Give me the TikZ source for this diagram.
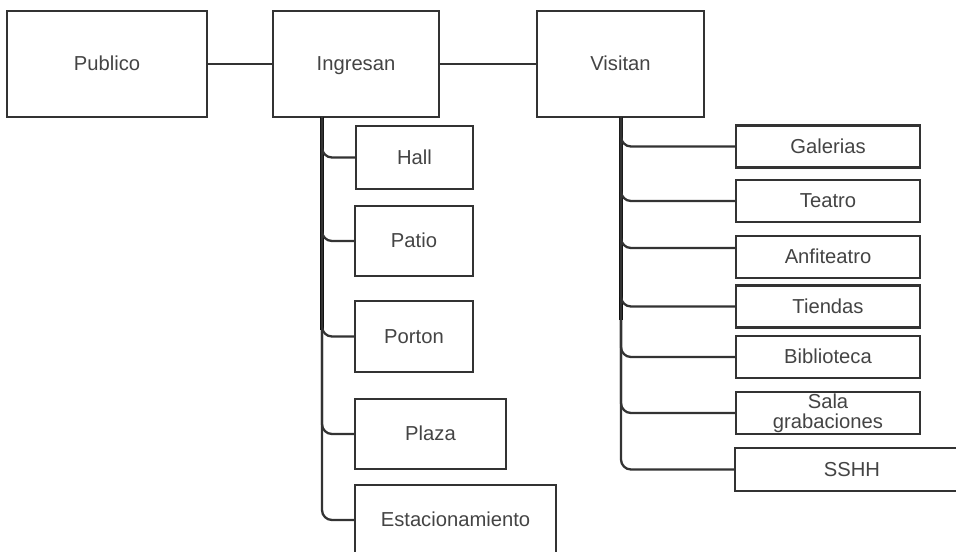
\documentclass[tikz,border=0pt]{standalone}
\usepackage{fontspec}
\setmainfont{Liberation Sans}
\definecolor{boxline}{HTML}{333333}
\definecolor{labelgray}{HTML}{444444}

\begin{document}
\begin{tikzpicture}[x=0.02cm, y=-0.02cm,
    font=\fontsize{11.5}{11.5}\selectfont,
    box/.style={draw=boxline, line width=1.2pt, fill=white, text=labelgray, inner sep=0pt,
        align=center, text height=8.2pt, text depth=0.4pt},
    link/.style={draw=boxline, line width=1.3pt, rounded corners=0.2cm},
    trunk/.style={draw=black, line width=1.9pt}]

    \useasboundingbox (0,0) rectangle (956,551);

    % Top row
    \node[box, minimum width=4cm, minimum height=2.12cm] (publico) at (107,64) {Publico};
    \node[box, minimum width=3.32cm, minimum height=2.12cm] (ingresan) at (356,64) {Ingresan};
    \node[box, minimum width=3.34cm, minimum height=2.12cm] (visitan) at (620.5,64) {Visitan};
    \draw[link] (publico) -- (ingresan);
    \draw[link] (ingresan) -- (visitan);

    % Trunks
    \coordinate (ltrunk) at (322,117);
    \coordinate (rtrunk) at (621,117);
    \coordinate (ltrunkmid) at (322,330);
    \coordinate (rtrunkmid) at (621,320);
    \draw[trunk] (ltrunk) -- (ltrunkmid);
    \draw[trunk] (rtrunk) -- (rtrunkmid);

    % Ingresan branch
    \node[box, minimum width=2.34cm, minimum height=1.26cm] (hall) at (414.5,157.5) {Hall};
    \node[box, minimum width=2.36cm, minimum height=1.4cm] (patio) at (414,241) {Patio};
    \node[box, minimum width=2.36cm, minimum height=1.42cm] (porton) at (414,336.5) {Porton};
    \node[box, minimum width=3.02cm, minimum height=1.4cm] (plaza) at (430.5,434) {Plaza};
    \node[box, minimum width=4.02cm, minimum height=1.4cm] (estac) at (455.5,520) {Estacionamiento};
    \foreach \n in {hall, patio, porton, plaza, estac}
        \draw[link] (ltrunk) |- (\n.west);

    % Visitan branch
    \node[box, minimum width=3.68cm, minimum height=0.84cm] (galerias) at (828,146.5) {Galerias};
    \node[box, minimum width=3.68cm, minimum height=0.84cm] (teatro) at (828,201) {Teatro};
    \node[box, minimum width=3.68cm, minimum height=0.84cm] (anfi) at (828,257) {Anfiteatro};
    \node[box, minimum width=3.68cm, minimum height=0.84cm] (tiendas) at (828,306.5) {Tiendas};
    \node[box, minimum width=3.68cm, minimum height=0.84cm] (biblio) at (828,357) {Biblioteca};
    \node[box, minimum width=3.68cm, minimum height=0.84cm, text height=, text depth=] (sala) at (828,413) {Sala\\grabaciones};
    \node[box, minimum width=4.68cm, minimum height=0.86cm] (sshh) at (852,469.5) {SSHH};
    \foreach \n in {galerias, teatro, tiendas, biblio, sala, sshh}
        \draw[link] (rtrunk) |- (\n.west);
    \draw[link] (rtrunk) |- ([yshift=0.18cm]anfi.west);

\end{tikzpicture}
\end{document}
